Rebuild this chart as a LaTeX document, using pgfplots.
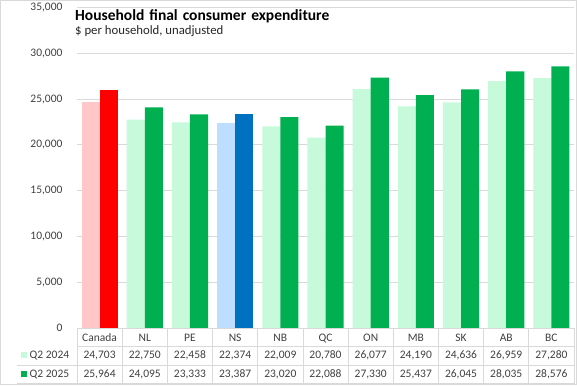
\documentclass[border=0pt]{standalone}
\usepackage{fontspec}
\setmainfont{Carlito}
\usepackage{pgfplots}
\usepackage{pgfplotstable}
\pgfplotsset{compat=1.18}
\pgfkeys{/pgf/number format/1000 sep={,}, /pgf/number format/assume math mode=true}
\definecolor{lgreen}{RGB}{198,250,218}
\definecolor{dgreen}{RGB}{0,176,80}
\definecolor{lpink}{RGB}{255,199,199}
\definecolor{dred}{RGB}{255,0,0}
\definecolor{lblue}{RGB}{189,222,255}
\definecolor{dblue}{RGB}{0,112,192}
\definecolor{gridc}{RGB}{217,217,217}
\definecolor{txt}{RGB}{64,64,64}

\pgfplotstableread{
idx name y24 y25
0 Canada 24703 25964
1 NL 22750 24095
2 PE 22458 23333
3 NS 22374 23387
4 NB 22009 23020
5 QC 20780 22088
6 ON 26077 27330
7 MB 24190 25437
8 SK 24636 26045
9 AB 26959 28035
10 BC 27280 28576
}\datatable

\begin{document}
\begin{tikzpicture}[x=1pt,y=1pt]
\path[use as bounding box] (0,0) rectangle (577,385);
\draw[gridc, line width=0.75pt] (0.5,0.5) rectangle (576.5,384.5);
\begin{axis}[
  at={(77pt,57pt)}, anchor=south west,
  scale only axis, width=497pt, height=320.5pt,
  xmin=-0.5, xmax=10.5, ymin=0, ymax=35000,
  ytick={0,5000,...,35000},
  xtick=\empty,
  ymajorgrids, grid style={gridc, line width=0.75pt},
  axis line style={draw=none},
  major tick length=0pt,
  scaled y ticks=false,
  ybar, bar width=0.4,
  tick label style={font=\fontsize{11.5}{13}\selectfont, text=txt},
  yticklabel style={xshift=-11pt},
  /pgf/number format/1000 sep={,},
  /pgf/number format/assume math mode=true,
]
\addplot[fill=lgreen, draw=none, bar shift=-0.2, x filter/.expression={(x==0 || x==3) ? nan : x}] table[x=idx, y=y24] {\datatable};
\addplot[fill=dgreen, draw=none, bar shift=0.2, x filter/.expression={(x==0 || x==3) ? nan : x}] table[x=idx, y=y25] {\datatable};
\addplot[fill=lpink, draw=none, bar shift=-0.2, x filter/.expression={x==0 ? x : nan}] table[x=idx, y=y24] {\datatable};
\addplot[fill=dred, draw=none, bar shift=0.2, x filter/.expression={x==0 ? x : nan}] table[x=idx, y=y25] {\datatable};
\addplot[fill=lblue, draw=none, bar shift=-0.2, x filter/.expression={x==3 ? x : nan}] table[x=idx, y=y24] {\datatable};
\addplot[fill=dblue, draw=none, bar shift=0.2, x filter/.expression={x==3 ? x : nan}] table[x=idx, y=y25] {\datatable};
\end{axis}
% data table grid
\foreach \k in {0,...,11} \draw[gridc, line width=0.75pt] ({77+45.1818*\k},57) -- ({77+45.1818*\k},1.5);
\draw[gridc, line width=0.75pt] (77,57) -- (574,57);
\draw[gridc, line width=0.75pt] (77,38.5) -- (574,38.5);
\draw[gridc, line width=0.75pt] (17,19.7) -- (574,19.7);
\draw[gridc, line width=0.75pt] (17,1.5) -- (574,1.5);
\foreach \i in {0,...,10}{
  \pgfplotstablegetelem{\i}{name}\of\datatable
  \node[anchor=base, inner sep=0pt, text=txt, font=\fontsize{11.5}{13}\selectfont] at ({77+45.1818*(\i+0.5)},43.5) {\pgfplotsretval};
  \pgfplotstablegetelem{\i}{y24}\of\datatable
  \node[anchor=base, inner sep=0pt, text=txt, font=\fontsize{11.5}{13}\selectfont] at ({77+45.1818*(\i+0.5)},26.5) {\pgfmathprintnumber{\pgfplotsretval}};
  \pgfplotstablegetelem{\i}{y25}\of\datatable
  \node[anchor=base, inner sep=0pt, text=txt, font=\fontsize{11.5}{13}\selectfont] at ({77+45.1818*(\i+0.5)},7.5) {\pgfmathprintnumber{\pgfplotsretval}};
}
% legend keys
\fill[lgreen] (20.7,27) rectangle (26.7,33);
\fill[dgreen] (20.7,8) rectangle (26.7,14);
\node[anchor=base west, inner sep=0pt, text=txt, font=\fontsize{11.5}{13}\selectfont] at (29.5,26.5) {Q2 2024};
\node[anchor=base west, inner sep=0pt, text=txt, font=\fontsize{11.5}{13}\selectfont] at (29.5,7.5) {Q2 2025};
% titles
\node[anchor=base west, inner sep=0pt, font=\bfseries\fontsize{15.5}{18}\selectfont] at (75,364.3) {\spaceskip=5pt Household final consumer expenditure};
\node[anchor=base west, inner sep=0pt, text=black!85, font=\fontsize{12.75}{14}\selectfont] at (75,350.7) {\$ per household, unadjusted};
\end{tikzpicture}
\end{document}
